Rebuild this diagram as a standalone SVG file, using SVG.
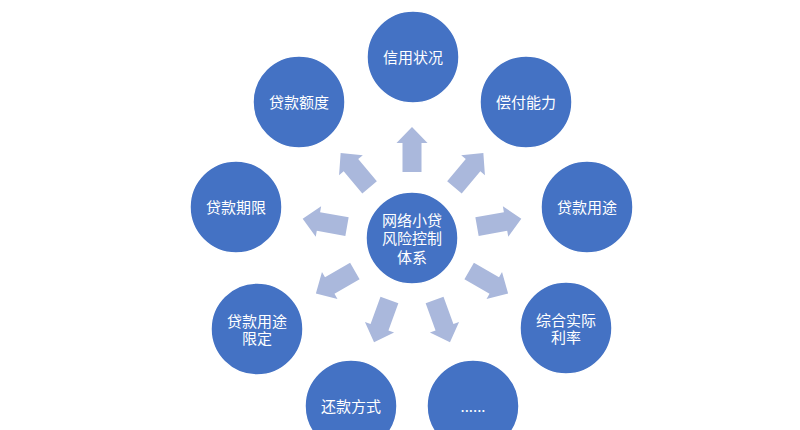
<svg xmlns="http://www.w3.org/2000/svg" xmlns:xlink="http://www.w3.org/1999/xlink" width="800" height="430" viewBox="0 0 800 430">
  <style>
    .node { fill: #4472C4; stroke: #ffffff; stroke-width: 1.5; }
    .label { fill: #ffffff; font-family: "Noto Sans CJK SC", "Noto Sans", sans-serif; font-size: 15px; text-anchor: middle; }
    .arrow { fill: #AAB8DC; }
  </style>
  <defs>
    <polygon id="arr" class="arrow" points="66,-9.5 95,-9.5 95,-15.5 111,0 95,15.5 95,9.5 66,9.5"/>
  </defs>
  <rect width="800" height="430" fill="#ffffff"/>
  <g id="connectors">
    <use xlink:href="#arr" href="#arr" transform="translate(412 238) rotate(-90)"/>
    <use xlink:href="#arr" href="#arr" transform="translate(412 238) rotate(-50)"/>
    <use xlink:href="#arr" href="#arr" transform="translate(412 238) rotate(-10)"/>
    <use xlink:href="#arr" href="#arr" transform="translate(412 238) rotate(30)"/>
    <use xlink:href="#arr" href="#arr" transform="translate(412 238) rotate(70)"/>
    <use xlink:href="#arr" href="#arr" transform="translate(412 238) rotate(110)"/>
    <use xlink:href="#arr" href="#arr" transform="translate(412 238) rotate(150)"/>
    <use xlink:href="#arr" href="#arr" transform="translate(412 238) rotate(190)"/>
    <use xlink:href="#arr" href="#arr" transform="translate(412 238) rotate(230)"/>
  </g>
  <g id="center">
    <circle class="node" cx="412" cy="238" r="46"/>
    <text class="label" x="412" y="225.5"><tspan x="412">网络小贷</tspan><tspan x="412" dy="18.5">风险控制</tspan><tspan x="412" dy="18.5">体系</tspan></text>
  </g>
  <g id="credit">
    <circle class="node" cx="413" cy="57" r="46"/>
    <text class="label" x="413" y="62.5">信用状况</text>
  </g>
  <g id="repay-ability">
    <circle class="node" cx="526" cy="102" r="46"/>
    <text class="label" x="526" y="107.5">偿付能力</text>
  </g>
  <g id="loan-purpose">
    <circle class="node" cx="587" cy="207" r="46"/>
    <text class="label" x="587" y="212.5">贷款用途</text>
  </g>
  <g id="interest-rate">
    <circle class="node" cx="566" cy="328" r="46"/>
    <text class="label" x="566" y="325.5"><tspan x="566">综合实际</tspan><tspan x="566" dy="17.5">利率</tspan></text>
  </g>
  <g id="more">
    <circle class="node" cx="473" cy="406" r="46"/>
    <text class="label" x="473" y="411.5">......</text>
  </g>
  <g id="repay-method">
    <circle class="node" cx="351" cy="406" r="46"/>
    <text class="label" x="351" y="411.5">还款方式</text>
  </g>
  <g id="purpose-limit">
    <circle class="node" cx="257" cy="329" r="46"/>
    <text class="label" x="257" y="326.5"><tspan x="257">贷款用途</tspan><tspan x="257" dy="17.5">限定</tspan></text>
  </g>
  <g id="loan-term">
    <circle class="node" cx="236" cy="207" r="46"/>
    <text class="label" x="236" y="212.5">贷款期限</text>
  </g>
  <g id="loan-amount">
    <circle class="node" cx="299" cy="102" r="46"/>
    <text class="label" x="299" y="107.5">贷款额度</text>
  </g>
</svg>
